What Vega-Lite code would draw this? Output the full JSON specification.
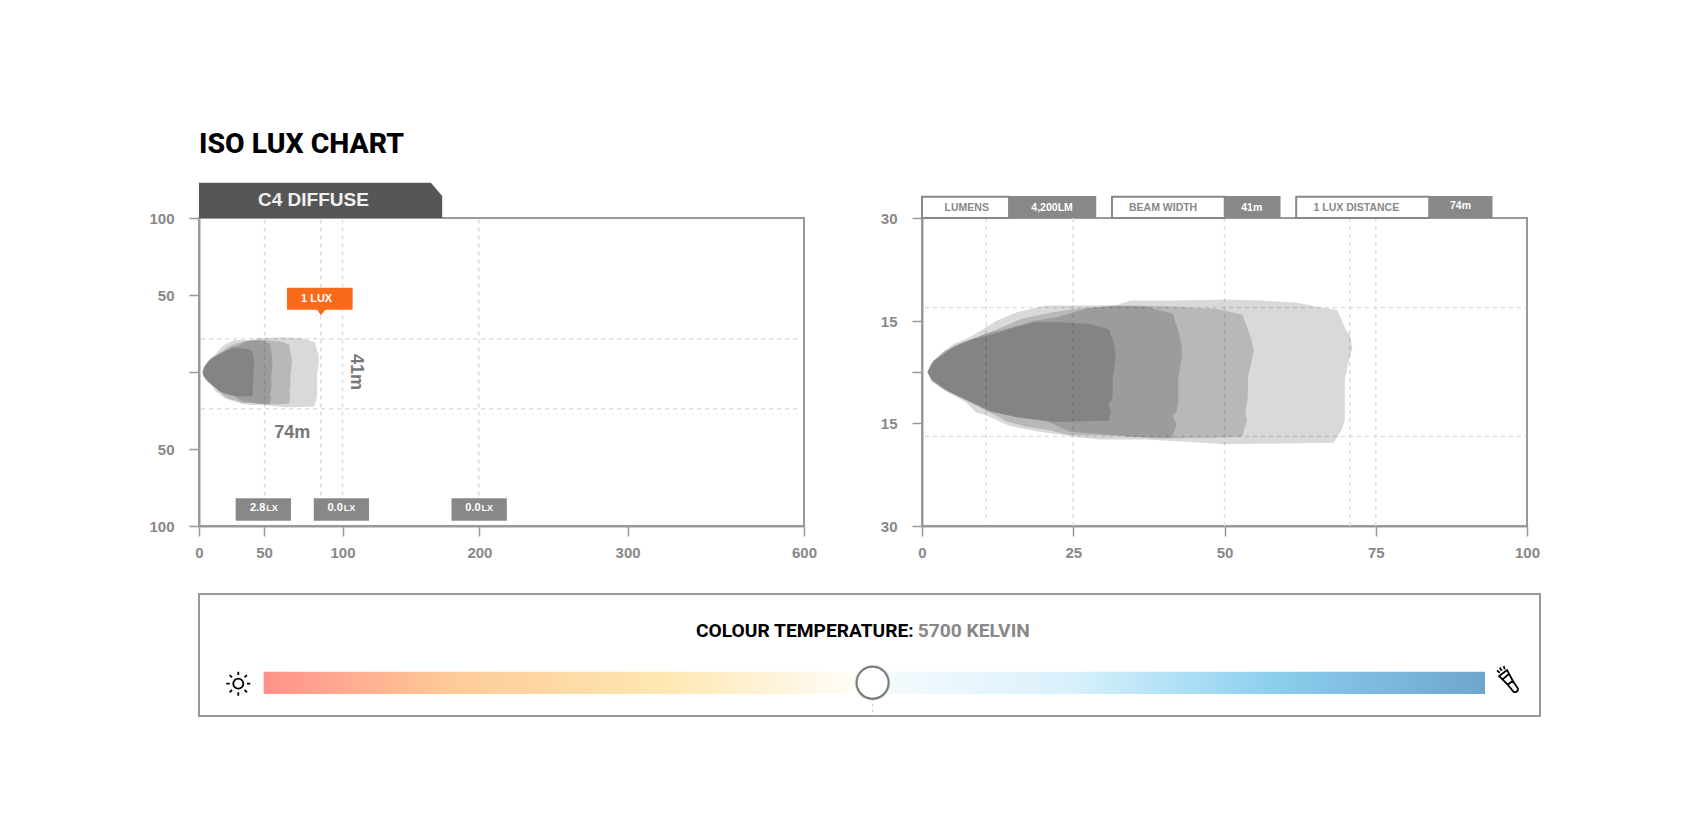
{
  "$schema": "https://vega.github.io/schema/vega-lite/v6.json",
  "description": "Iso lux chart for the C4 Diffuse lamp with colour temperature slider.",
  "padding": {"left": 147, "top": 128, "right": 5, "bottom": 5},
  "background": "white",
  "bounds": "flush",
  "spacing": 376,
  "config": {
    "view": {"stroke": "#999999", "strokeWidth": 2},
    "axis": {
      "title": null,
      "grid": false,
      "domainColor": "#999999",
      "domainWidth": 2,
      "tickColor": "#999999",
      "tickWidth": 1.5,
      "tickSize": 10,
      "labelFont": "Liberation Sans",
      "labelFontWeight": "bold",
      "labelFontSize": 15,
      "labelColor": "#888888",
      "labelPadding": 15
    },
    "axisX": {"labelPadding": 9},
    "text": {"font": "Liberation Sans", "fontWeight": "bold"}
  },
  "datasets": {
    "iso": [
      {"level":1,"s":1,"x":0.89,"y":0},{"level":1,"s":2,"x":1.48,"y":2.43},{"level":1,"s":3,"x":3.1,"y":5.36},{"level":1,"s":4,"x":5.31,"y":8.28},{"level":1,"s":5,"x":7.9,"y":10.23},{"level":1,"s":6,"x":10.11,"y":12.66},{"level":1,"s":7,"x":12.32,"y":15.05},{"level":1,"s":8,"x":15.65,"y":16.27},{"level":1,"s":9,"x":20.44,"y":17.25},{"level":1,"s":10,"x":26.72,"y":17.25},{"level":1,"s":11,"x":32.25,"y":17.34},{"level":1,"s":12,"x":34.46,"y":17.98},{"level":1,"s":13,"x":41.48,"y":17.98},{"level":1,"s":14,"x":50.33,"y":18.13},{"level":1,"s":15,"x":56.24,"y":17.98},{"level":1,"s":16,"x":61.77,"y":17.69},{"level":1,"s":17,"x":65.09,"y":17.1},{"level":1,"s":18,"x":68.63,"y":16.61},{"level":1,"s":19,"x":70.11,"y":12.17},{"level":1,"s":20,"x":70.7,"y":11.2},{"level":1,"s":21,"x":71.14,"y":6.82},{"level":1,"s":22,"x":70.7,"y":4.38},{"level":1,"s":23,"x":70.11,"y":-0.49},{"level":1,"s":24,"x":69.89,"y":-1.95},{"level":1,"s":25,"x":69.89,"y":-14.12},{"level":1,"s":26,"x":69.37,"y":-16.03},{"level":1,"s":27,"x":68.04,"y":-17.88},{"level":1,"s":28,"x":59.93,"y":-17.98},{"level":1,"s":29,"x":50.33,"y":-18.08},{"level":1,"s":30,"x":43.69,"y":-17.74},{"level":1,"s":31,"x":37.05,"y":-17.39},{"level":1,"s":32,"x":29.3,"y":-17.39},{"level":1,"s":33,"x":24.5,"y":-16.91},{"level":1,"s":34,"x":19.34,"y":-16.27},{"level":1,"s":35,"x":14.54,"y":-15.44},{"level":1,"s":36,"x":10.48,"y":-12.66},{"level":1,"s":37,"x":9,"y":-11.98},{"level":1,"s":38,"x":7.16,"y":-8.77},{"level":1,"s":39,"x":4.58,"y":-6.33},{"level":1,"s":40,"x":1.62,"y":-2.92},
      {"level":2,"s":1,"x":0.89,"y":0},{"level":2,"s":2,"x":1.62,"y":2.92},{"level":2,"s":3,"x":3.84,"y":6.33},{"level":2,"s":4,"x":7.53,"y":9.25},{"level":2,"s":5,"x":11.96,"y":12.17},{"level":2,"s":6,"x":16.38,"y":15.29},{"level":2,"s":7,"x":21.55,"y":16.27},{"level":2,"s":8,"x":26.72,"y":16.91},{"level":2,"s":9,"x":34.1,"y":17.25},{"level":2,"s":10,"x":41.48,"y":17.1},{"level":2,"s":11,"x":48.86,"y":16.76},{"level":2,"s":12,"x":52.92,"y":15.93},{"level":2,"s":13,"x":54.17,"y":11.2},{"level":2,"s":14,"x":54.61,"y":8.28},{"level":2,"s":15,"x":54.83,"y":6.33},{"level":2,"s":16,"x":54.39,"y":2.43},{"level":2,"s":17,"x":53.87,"y":-1.46},{"level":2,"s":18,"x":53.87,"y":-7.3},{"level":2,"s":19,"x":53.43,"y":-11.69},{"level":2,"s":20,"x":53.73,"y":-14.12},{"level":2,"s":21,"x":52.92,"y":-17},{"level":2,"s":22,"x":47.38,"y":-17.15},{"level":2,"s":23,"x":38.52,"y":-17.25},{"level":2,"s":24,"x":32.62,"y":-16.86},{"level":2,"s":25,"x":24.5,"y":-16.76},{"level":2,"s":26,"x":20.81,"y":-16.03},{"level":2,"s":27,"x":17.12,"y":-15.54},{"level":2,"s":28,"x":14.17,"y":-14.61},{"level":2,"s":29,"x":10.48,"y":-11.2},{"level":2,"s":30,"x":7.53,"y":-8.77},{"level":2,"s":31,"x":4.58,"y":-5.84},{"level":2,"s":32,"x":1.62,"y":-2.43},
      {"level":3,"s":1,"x":0.89,"y":0},{"level":3,"s":2,"x":1.99,"y":3.41},{"level":3,"s":3,"x":5.31,"y":7.3},{"level":3,"s":4,"x":10.48,"y":11.2},{"level":3,"s":5,"x":14.91,"y":13.15},{"level":3,"s":6,"x":18.6,"y":15.05},{"level":3,"s":7,"x":22.29,"y":15.54},{"level":3,"s":8,"x":27.45,"y":16.91},{"level":3,"s":9,"x":31.88,"y":17.25},{"level":3,"s":10,"x":37.05,"y":17.1},{"level":3,"s":11,"x":41.48,"y":16.03},{"level":3,"s":12,"x":42.51,"y":11.2},{"level":3,"s":13,"x":42.95,"y":7.3},{"level":3,"s":14,"x":42.95,"y":4.38},{"level":3,"s":15,"x":42.36,"y":-1.95},{"level":3,"s":16,"x":42.36,"y":-9.25},{"level":3,"s":17,"x":42.07,"y":-11.69},{"level":3,"s":18,"x":41.48,"y":-12.95},{"level":3,"s":19,"x":42.07,"y":-15.29},{"level":3,"s":20,"x":41.33,"y":-17.15},{"level":3,"s":21,"x":34.1,"y":-17},{"level":3,"s":22,"x":28.19,"y":-16.52},{"level":3,"s":23,"x":24.5,"y":-16.27},{"level":3,"s":24,"x":20.81,"y":-14.61},{"level":3,"s":25,"x":15.65,"y":-13.34},{"level":3,"s":26,"x":11.22,"y":-11.69},{"level":3,"s":27,"x":7.53,"y":-8.28},{"level":3,"s":28,"x":3.84,"y":-5.36},{"level":3,"s":29,"x":1.62,"y":-2.43},
      {"level":4,"s":1,"x":0.89,"y":0},{"level":4,"s":2,"x":1.99,"y":3.41},{"level":4,"s":3,"x":5.31,"y":7.79},{"level":4,"s":4,"x":7.9,"y":9.45},{"level":4,"s":5,"x":11.96,"y":11.2},{"level":4,"s":6,"x":15.28,"y":13.15},{"level":4,"s":7,"x":18.6,"y":14.61},{"level":4,"s":8,"x":23.03,"y":14.61},{"level":4,"s":9,"x":27.82,"y":14.12},{"level":4,"s":10,"x":30.92,"y":12.56},{"level":4,"s":11,"x":31.73,"y":8.28},{"level":4,"s":12,"x":32.03,"y":4.38},{"level":4,"s":13,"x":31.51,"y":-1.95},{"level":4,"s":14,"x":31.51,"y":-7.3},{"level":4,"s":15,"x":30.85,"y":-9.74},{"level":4,"s":16,"x":31.29,"y":-11.4},{"level":4,"s":17,"x":30.85,"y":-14.32},{"level":4,"s":18,"x":22.29,"y":-14.71},{"level":4,"s":19,"x":15.65,"y":-13.34},{"level":4,"s":20,"x":11.22,"y":-11.4},{"level":4,"s":21,"x":7.53,"y":-8.28},{"level":4,"s":22,"x":3.84,"y":-5.36},{"level":4,"s":23,"x":1.62,"y":-2.43}
    ]
  },
  "vconcat": [
    {
      "bounds": "flush",
      "spacing": 118,
      "hconcat": [
        {
          "width": 605,
          "height": 308,
          "resolve": {"scale": {"x": "independent", "y": "independent"}},
          "layer": [
            {
              "encoding": {
                "x": {
                  "field": "x",
                  "type": "quantitative",
                  "scale": {"domain": [0, 50, 100, 200, 300, 600], "range": [0, 65, 143.5, 280.4, 428.6, 605], "nice": false, "zero": false},
                  "axis": {"values": [0, 50, 100, 200, 300, 600], "labelFlush": false}
                },
                "y": {
                  "field": "y",
                  "type": "quantitative",
                  "scale": {"domain": [-100, 100], "nice": false, "zero": false},
                  "axis": {"values": [-100, -50, 0, 50, 100], "labelExpr": "datum.value == 0 ? '' : abs(datum.value)"}
                }
              },
              "layer": [
                {
                  "data": {"values": [{"x": 50.4, "y": 99, "y2": -95}, {"x": 86.2, "y": 99, "y2": -97}, {"x": 100, "y": 99, "y2": -95}, {"x": 199.5, "y": 99, "y2": -95}]},
                  "mark": {"type": "rule", "color": "#dddddd", "strokeWidth": 1.5, "strokeDash": [4, 4]},
                  "encoding": {"y2": {"field": "y2"}}
                },
                {
                  "data": {"values": [{"x": 1.7, "x2": 595, "y": 21.6}, {"x": 1.7, "x2": 595, "y": -23.8}]},
                  "mark": {"type": "rule", "color": "#dddddd", "strokeWidth": 1.5, "strokeDash": [4, 4]},
                  "encoding": {"x2": {"field": "x2"}}
                },
                {
                  "data": {"values": [{"s": 1, "x": 0, "y": 100}, {"s": 2, "x": 0, "y": 122.9}, {"s": 3, "x": 164.6, "y": 122.9}, {"s": 4, "x": 172.8, "y": 114.3}, {"s": 5, "x": 172.8, "y": 100}]},
                  "mark": {"type": "line", "filled": true, "color": "#565656", "strokeWidth": 0},
                  "encoding": {"order": {"field": "s"}}
                },
                {
                  "data": {"values": [{"x": 81.5, "y": 111.6, "t": "C4 DIFFUSE"}]},
                  "mark": {"type": "text", "fontSize": 19, "color": "#f0f0f0", "align": "center", "baseline": "middle"},
                  "encoding": {"text": {"field": "t"}}
                },
                {
                  "data": {"values": [{"x": 0, "y": 142.3, "t": "ISO LUX CHART"}]},
                  "mark": {"type": "text", "font": "Roboto", "fontSize": 28.4, "fontWeight": 800, "color": "#000000", "align": "left", "baseline": "alphabetic"},
                  "encoding": {"text": {"field": "t"}}
                },
                {
                  "data": {"values": [{"s": 1, "x": 83.4, "y": 41}, {"s": 2, "x": 86.2, "y": 36.8}, {"s": 3, "x": 89.6, "y": 41}]},
                  "mark": {"type": "line", "filled": true, "color": "#f96a1b", "strokeWidth": 0},
                  "encoding": {"order": {"field": "s"}}
                },
                {
                  "data": {"values": [{"x": 64.6, "x2": 107.4, "y": 54.7, "y2": 40.5}]},
                  "mark": {"type": "rect", "color": "#f96a1b"},
                  "encoding": {"x2": {"field": "x2"}, "y2": {"field": "y2"}}
                },
                {
                  "data": {"values": [{"x": 83.5, "y": 47.2, "t": "1 LUX"}]},
                  "mark": {"type": "text", "fontSize": 11, "color": "white", "align": "center", "baseline": "middle"},
                  "encoding": {"text": {"field": "t"}}
                },
                {
                  "data": {"values": [{"x": 28.2, "x2": 67.2, "y": -82, "y2": -96.6}, {"x": 81.7, "x2": 119.4, "y": -82, "y2": -96.6}, {"x": 179.6, "x2": 218.5, "y": -82, "y2": -96.6}]},
                  "mark": {"type": "rect", "color": "#888888"},
                  "encoding": {"x2": {"field": "x2"}, "y2": {"field": "y2"}}
                },
                {
                  "data": {"values": [{"x": 50.8, "y": -88.3, "t": "2.8"}, {"x": 100.2, "y": -88.3, "t": "0.0"}, {"x": 200.8, "y": -88.3, "t": "0.0"}]},
                  "mark": {"type": "text", "fontSize": 11, "color": "white", "align": "right", "baseline": "middle"},
                  "encoding": {"text": {"field": "t"}}
                },
                {
                  "data": {"values": [{"x": 50.8, "y": -88.3, "t": "LX"}, {"x": 100.2, "y": -88.3, "t": "LX"}, {"x": 200.8, "y": -88.3, "t": "LX"}]},
                  "mark": {"type": "text", "fontSize": 9, "color": "white", "align": "left", "baseline": "middle", "dx": 1},
                  "encoding": {"text": {"field": "t"}}
                },
                {
                  "data": {"values": [{"x": 68, "y": -39.4, "t": "74m"}]},
                  "mark": {"type": "text", "fontSize": 18, "color": "#777777", "align": "center", "baseline": "middle"},
                  "encoding": {"text": {"field": "t"}}
                },
                {
                  "data": {"values": [{"x": 109.6, "y": 0, "t": "41m"}]},
                  "mark": {"type": "text", "fontSize": 18, "color": "#777777", "align": "center", "baseline": "middle", "angle": 90},
                  "encoding": {"text": {"field": "t"}}
                }
              ]
            },
            {
              "data": {"name": "iso"},
              "mark": {"type": "line", "filled": true, "color": "#000000", "fillOpacity": 0.15, "strokeWidth": 0},
              "encoding": {
                "x": {"field": "x", "type": "quantitative", "axis": null, "scale": {"domain": [-1.22, 363.2], "nice": false, "zero": false}},
                "y": {"field": "y", "type": "quantitative", "axis": null, "scale": {"domain": [-30, -15, 0, 15, 30], "range": [228.5, 179.1, 154.3, 129.5, 80.1], "nice": false, "zero": false}},
                "detail": {"field": "level"},
                "order": {"field": "s"}
              }
            }
          ]
        },
        {
          "width": 605,
          "height": 308,
          "encoding": {
            "x": {
              "field": "x",
              "type": "quantitative",
              "scale": {"domain": [0, 100], "nice": false, "zero": false},
              "axis": {"values": [0, 25, 50, 75, 100], "labelFlush": false}
            },
            "y": {
              "field": "y",
              "type": "quantitative",
              "scale": {"domain": [-30, -15, 0, 15, 30], "range": [308, 205, 154, 103, 0], "nice": false, "zero": false},
              "axis": {"values": [-30, -15, 0, 15, 30], "labelExpr": "datum.value == 0 ? '' : abs(datum.value)"}
            }
          },
          "layer": [
            {
              "data": {"values": [{"x": 10.6, "y": 30, "y2": -29.5}, {"x": 25, "y": 30, "y2": -30}, {"x": 50, "y": 30, "y2": -30}, {"x": 70.7, "y": 30, "y2": -30}, {"x": 75, "y": 30, "y2": -30}]},
              "mark": {"type": "rule", "color": "#dddddd", "strokeWidth": 1.5, "strokeDash": [4, 4]},
              "encoding": {"y2": {"field": "y2"}}
            },
            {
              "data": {"values": [{"x": 0.5, "x2": 99.8, "y": 16.95}, {"x": 0.5, "x2": 99.8, "y": -16.95}]},
              "mark": {"type": "rule", "color": "#dddddd", "strokeWidth": 1.5, "strokeDash": [4, 4]},
              "encoding": {"x2": {"field": "x2"}}
            },
            {
              "data": {"name": "iso"},
              "mark": {"type": "line", "filled": true, "color": "#000000", "fillOpacity": 0.15, "strokeWidth": 0},
              "encoding": {"detail": {"field": "level"}, "order": {"field": "s"}}
            },
            {
              "data": {"values": [{"x": 0, "x2": 14.39, "y": 33.1, "y2": 30}, {"x": 31.4, "x2": 50.04, "y": 33.1, "y2": 30}, {"x": 61.85, "x2": 83.84, "y": 33.1, "y2": 30}]},
              "mark": {"type": "rect", "fill": "white", "stroke": "#888888", "strokeWidth": 2},
              "encoding": {"x2": {"field": "x2"}, "y2": {"field": "y2"}}
            },
            {
              "data": {"values": [{"x": 14.39, "x2": 28.8, "y": 33.2, "y2": 30}, {"x": 50.04, "x2": 59.26, "y": 33.2, "y2": 30}, {"x": 83.84, "x2": 94.3, "y": 33.2, "y2": 30}]},
              "mark": {"type": "rect", "color": "#888888"},
              "encoding": {"x2": {"field": "x2"}, "y2": {"field": "y2"}}
            },
            {
              "data": {"values": [{"x": 7.4, "y": 31.4, "t": "LUMENS"}, {"x": 39.85, "y": 31.4, "t": "BEAM WIDTH"}, {"x": 71.8, "y": 31.4, "t": "1 LUX DISTANCE"}]},
              "mark": {"type": "text", "fontSize": 10.5, "color": "#888888", "align": "center", "baseline": "middle"},
              "encoding": {"text": {"field": "t"}}
            },
            {
              "data": {"values": [{"x": 21.5, "y": 31.4, "t": "4,200LM"}, {"x": 54.5, "y": 31.4, "t": "41m"}, {"x": 89, "y": 31.8, "t": "74m"}]},
              "mark": {"type": "text", "fontSize": 10.5, "color": "white", "align": "center", "baseline": "middle"},
              "encoding": {"text": {"field": "t"}}
            }
          ]
        }
      ]
    },
    {
      "width": 1341,
      "height": 122,
      "encoding": {
        "x": {"field": "x", "type": "quantitative", "axis": null, "scale": {"domain": [0, 100], "nice": false, "zero": false}},
        "y": {"field": "y", "type": "quantitative", "axis": null, "scale": {"domain": [0, 100], "nice": false, "zero": false}}
      },
      "layer": [
        {
          "data": {"values": [{"x": 4.82, "x2": 95.9, "y": 36.3, "y2": 18}]},
          "mark": {
            "type": "rect",
            "color": {
              "gradient": "linear",
              "x1": 0,
              "y1": 0,
              "x2": 1,
              "y2": 0,
              "stops": [
                {"offset": 0, "color": "#ff918b"},
                {"offset": 0.155, "color": "#fdcb97"},
                {"offset": 0.334, "color": "#fee8b4"},
                {"offset": 0.485, "color": "#fffdf8"},
                {"offset": 0.5, "color": "#ffffff"},
                {"offset": 0.515, "color": "#f4fafd"},
                {"offset": 0.665, "color": "#d8f0fb"},
                {"offset": 0.75, "color": "#aee0f6"},
                {"offset": 0.83, "color": "#8bcded"},
                {"offset": 1, "color": "#6ea5cd"}
              ]
            }
          },
          "encoding": {"x2": {"field": "x2"}, "y2": {"field": "y2"}}
        },
        {
          "data": {"values": [{"x": 50.23, "y": 15, "y2": 3}]},
          "mark": {"type": "rule", "color": "#cccccc", "strokeWidth": 1, "strokeDash": [3, 3]},
          "encoding": {"y2": {"field": "y2"}}
        },
        {
          "data": {"values": [{"x": 50.23, "y": 27.3}]},
          "mark": {"type": "point", "shape": "circle", "filled": true, "color": "#000000", "opacity": 0.12, "size": 1300}
        },
        {
          "data": {"values": [{"x": 50.23, "y": 27.3}]},
          "mark": {"type": "point", "shape": "circle", "filled": true, "fill": "white", "stroke": "#777777", "strokeWidth": 2, "opacity": 1, "size": 1020}
        },
        {
          "data": {"values": [{"x": 53.3, "y": 69.4, "t": "COLOUR TEMPERATURE:"}]},
          "mark": {"type": "text", "font": "Roboto", "fontSize": 19.2, "fontWeight": 700, "color": "#000000", "align": "right", "baseline": "middle"},
          "encoding": {"text": {"field": "t"}}
        },
        {
          "data": {"values": [{"x": 53.6, "y": 69.4, "t": "5700 KELVIN"}]},
          "mark": {"type": "text", "font": "Roboto", "fontSize": 19.2, "fontWeight": 700, "color": "#888888", "align": "left", "baseline": "middle"},
          "encoding": {"text": {"field": "t"}}
        },
        {
          "data": {"values": [{"x": 2.93, "y": 26.5}]},
          "mark": {
            "type": "point",
            "filled": false,
            "color": "#000000",
            "opacity": 1,
            "strokeWidth": 1.8,
            "size": 576,
            "shape": "M-.42 0a.42 .42 0 1 0 .84 0a.42 .42 0 1 0 -.84 0 M0 -1V-.72 M0 .72V1 M-1 0H-.72 M.72 0H1 M-.72 -.72L-.52 -.52 M.52 .52L.72 .72 M.72 -.72L.52 -.52 M-.52 .52L-.72 .72"
          }
        },
        {
          "data": {"values": [{"x": 97.62, "y": 30}]},
          "mark": {
            "type": "point",
            "filled": false,
            "color": "#000000",
            "opacity": 1,
            "strokeWidth": 1.8,
            "size": 676,
            "shape": "M-.03 .41L.36 .1L.77 .72Q.8 .85 .62 .97Q.5 1 .44 .97Z M-.03 .41L-.69 -.26L-.08 -.72L.36 .1 M-.45 .02L.07 -.42 M-.85 -.69L-.64 -.51 M-.64 -.92L-.49 -.67 M-.33 -1.03L-.26 -.77"
          }
        }
      ]
    }
  ]
}
